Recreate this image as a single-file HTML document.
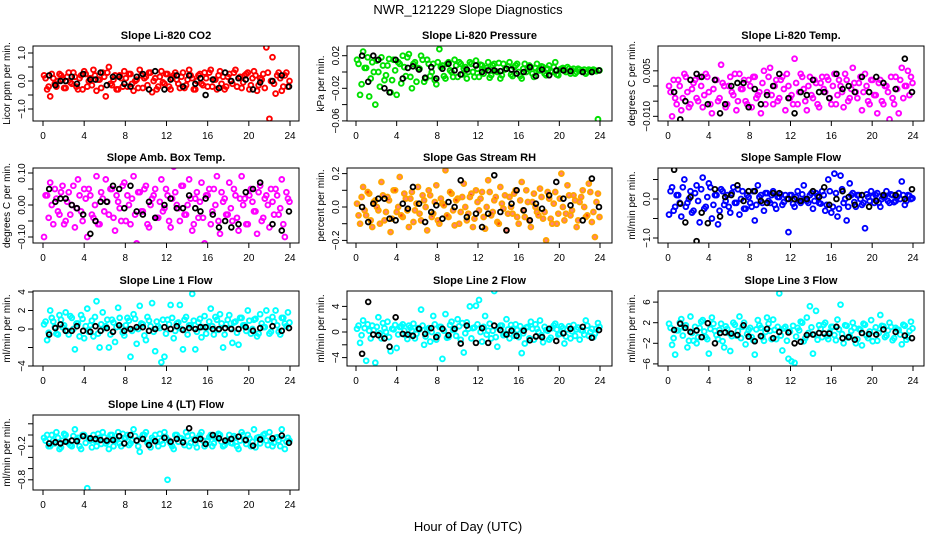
<!DOCTYPE html>
<html><head><meta charset="utf-8"><style>
body{margin:0;background:#fff}
svg{display:block;font-family:"Liberation Sans",sans-serif}
</style></head><body>
<svg id="chart" width="936" height="540" viewBox="0 0 936 540">
<text x="468" y="14" text-anchor="middle" font-size="13">NWR_121229  Slope Diagnostics</text>
<text x="468" y="531" text-anchor="middle" font-size="13">Hour of Day (UTC)</text>
</svg>
<script>
const hoursC=[0.1,0.4,0.7,1.0,1.3,1.6,1.9,2.2,2.5,2.8,3.1,3.4,3.7,4.0,4.3,4.6,4.9,5.2,5.5,5.8,6.1,6.4,6.7,7.0,7.3,7.6,7.9,8.2,8.5,8.8,9.1,9.4,9.7,10.0,10.3,10.6,10.9,11.2,11.5,11.8,12.1,12.4,12.7,13.0,13.3,13.6,13.9,14.2,14.5,14.8,15.1,15.4,15.7,16.0,16.3,16.6,16.9,17.2,17.5,17.8,18.1,18.4,18.7,19.0,19.3,19.6,19.9,20.2,20.5,20.8,21.1,21.4,21.7,22.0,22.3,22.6,22.9,23.2,23.5,23.8];
const hoursC2=[0.25,0.55,0.85,1.15,1.45,1.75,2.05,2.35,2.65,2.95,3.25,3.55,3.85,4.15,4.45,4.75,5.05,5.35,5.65,5.95,6.25,6.55,6.85,7.15,7.45,7.75,8.05,8.35,8.65,8.95,9.25,9.55,9.85,10.15,10.45,10.75,11.05,11.35,11.65,11.95,12.25,12.55,12.85,13.15,13.45,13.75,14.05,14.35,14.65,14.95,15.25,15.55,15.85,16.15,16.45,16.75,17.05,17.35,17.65,17.95,18.25,18.55,18.85,19.15,19.45,19.75,20.05,20.35,20.65,20.95,21.25,21.55,21.85,22.15,22.45,22.75,23.05,23.35,23.65,23.95];
const hoursK=[0.6,1.2,1.7,2.2,2.8,3.3,3.9,4.6,5.1,5.6,6.2,6.8,7.4,7.9,8.5,9.1,9.7,10.3,10.9,11.8,12.4,13.0,13.6,14.2,14.8,15.3,15.8,16.5,17.1,17.7,18.3,19.0,19.7,20.4,21.1,22.3,23.2,23.9];

const co2All=[0.2,-0.3,-0.55,0.1,-0.2,0.25,0.05,-0.25,0.3,-0.1,0.15,-0.3,0.2,0.35,-0.2,0.1,0.4,-0.35,0.05,0.3,-0.55,0.5,-0.15,0.2,-0.3,0.1,0.35,-0.2,0.25,-0.35,0.05,0.4,-0.25,0.15,0.3,-0.4,0.1,-0.2,0.35,-0.1,0.25,-0.3,0.2,0.05,-0.25,0.3,-0.15,0.4,0.1,-0.3,0.2,-0.1,0.3,-0.2,0.4,0.05,-0.3,0.35,0.15,-0.2,0.25,-0.1,0.4,0.1,-0.25,0.2,0.3,-0.15,0.35,-0.35,0.1,0.25,1.2,-1.35,0.85,-0.45,0.3,-0.35,0.2,-0.2];
const co2All2=[0.1,-0.2,0.25,-0.1,0.0,0.2,-0.25,0.15,-0.05,0.3,-0.2,0.1,-0.3,0.25,0.0,-0.15,0.2,0.05,-0.25,0.15,0.3,-0.1,0.05,-0.3,0.2,-0.2,0.1,0.25,-0.1,0.0,-0.25,0.2,0.1,-0.15,0.3,0.0,-0.3,0.15,-0.05,0.25,-0.2,0.1,0.3,-0.1,0.15,-0.25,0.05,0.2,-0.3,0.0,0.25,-0.15,0.1,0.3,-0.2,0.05,0.2,-0.1,-0.3,0.15,0.0,0.3,-0.2,0.15,-0.05,0.25,-0.3,0.1,0.2,-0.15,0.05,-0.25,0.3,0.0,-0.1,0.2,0.1,-0.2,0.3,0.0];
const co2Sel=[0.2,-0.15,0.0,0.0,0.15,-0.1,0.25,0.05,0.05,0.3,-0.15,0.15,0.15,-0.1,-0.2,0.15,0.25,-0.3,0.35,-0.3,0.05,0.2,-0.2,0.2,-0.1,0.1,-0.5,0.05,-0.25,0.3,0.0,0.1,0.05,-0.3,-0.05,0.0,0.2,-0.2];
const presAll=[0.015,-0.028,0.025,0.005,-0.03,0.012,-0.04,0.0,0.018,-0.01,0.008,-0.025,0.015,-0.028,0.01,0.02,-0.005,0.022,-0.02,0.012,0.005,0.02,-0.012,0.015,-0.005,0.01,-0.015,0.028,0.008,-0.008,0.012,0.0,0.015,-0.006,0.01,0.004,-0.008,0.012,0.0,0.014,-0.006,0.008,0.002,0.012,-0.004,0.01,0.0,-0.008,0.01,0.004,0.012,-0.005,0.008,0.0,-0.008,0.01,0.004,0.006,-0.006,0.01,0.002,0.006,-0.004,0.008,0.0,0.012,-0.004,0.004,0.002,0.006,-0.002,0.004,0.0,0.003,0.001,-0.002,0.003,0.0,0.002,-0.058];
const presAll2=[0.01,-0.015,0.005,0.018,-0.008,0.0,0.014,-0.018,0.008,-0.004,0.016,-0.01,0.002,0.012,-0.014,0.006,0.018,-0.006,0.01,-0.012,0.004,0.015,-0.008,0.01,0.0,-0.01,0.012,0.006,-0.005,0.01,0.002,-0.006,0.008,0.012,-0.003,0.006,0.0,0.01,-0.006,0.004,0.009,-0.002,0.005,-0.007,0.008,0.001,0.011,-0.004,0.003,0.007,-0.003,0.006,0.01,-0.005,0.004,0.0,0.008,-0.002,0.005,0.002,0.007,-0.002,0.004,0.001,0.006,-0.003,0.003,0.005,0.0,0.004,0.002,-0.002,0.004,0.001,0.003,0.0,0.002,0.003,0.001,0.002];
const presSel=[0.02,-0.012,0.02,0.015,-0.02,-0.025,0.015,-0.008,0.005,0.007,0.003,-0.007,0.006,-0.008,0.004,0.01,0.002,-0.003,0.003,0.008,0.0,0.002,0.002,0.001,0.004,0.003,-0.002,0.0,0.006,-0.005,0.003,-0.004,0.002,0.002,0.001,0.0,0.0,0.002];
const tempAll=[0.0,-0.01,-0.004,0.002,-0.008,0.004,-0.002,-0.006,0.001,-0.004,0.003,-0.007,0.004,-0.002,-0.009,0.002,-0.005,0.007,0.0,-0.006,0.003,-0.003,-0.008,0.004,-0.001,-0.005,0.002,-0.007,0.003,-0.003,-0.009,0.005,-0.002,0.006,-0.006,0.002,-0.004,0.003,-0.008,0.0,-0.003,0.009,-0.006,0.004,-0.001,-0.008,0.003,-0.004,0.001,-0.007,0.003,-0.002,0.002,-0.006,0.004,-0.003,0.0,-0.007,0.002,-0.004,0.006,-0.002,0.001,-0.008,0.004,-0.005,0.002,-0.003,-0.009,0.002,-0.006,0.0,-0.011,-0.004,0.003,-0.009,0.006,0.0,0.005,0.003];
const tempAll2=[-0.002,0.002,-0.006,0.0,-0.004,0.003,-0.007,-0.001,0.002,-0.005,0.0,-0.003,0.003,-0.006,-0.001,0.002,-0.004,0.001,-0.007,0.0,-0.002,0.004,-0.005,-0.001,0.002,-0.006,0.0,0.003,-0.004,-0.002,0.001,-0.006,0.003,-0.003,0.0,-0.005,0.002,-0.001,0.004,-0.004,-0.006,0.001,-0.002,0.003,-0.005,0.0,-0.003,0.002,-0.006,0.001,-0.001,0.003,-0.004,0.0,-0.006,0.002,-0.002,0.004,-0.005,-0.001,0.001,-0.004,0.003,-0.002,0.0,-0.006,0.002,-0.003,0.001,-0.005,0.0,-0.002,0.003,-0.006,-0.001,0.002,-0.004,0.0,-0.003,0.001];
const tempSel=[-0.002,-0.011,-0.005,0.002,0.004,0.003,-0.006,0.002,-0.009,-0.006,0.0,0.001,0.001,-0.007,-0.001,-0.006,-0.003,0.0,0.004,-0.004,-0.009,-0.002,-0.003,0.002,-0.002,-0.002,-0.004,0.004,-0.001,0.0,-0.002,0.003,-0.002,0.003,0.001,-0.001,0.009,-0.002];
const boxAll=[-0.1,0.03,0.07,-0.06,0.02,-0.03,0.06,-0.05,0.04,0.0,-0.07,0.08,-0.02,0.05,-0.1,0.03,-0.04,0.09,-0.06,0.02,0.08,-0.03,0.05,-0.08,0.01,-0.05,0.07,0.03,-0.06,0.09,-0.12,0.04,-0.02,0.06,-0.07,0.02,0.05,-0.04,0.08,-0.01,0.03,-0.07,0.12,0.0,-0.05,0.06,-0.03,0.08,-0.08,0.02,-0.04,0.07,-0.12,0.03,-0.06,0.05,0.09,-0.09,0.01,-0.03,0.07,-0.05,0.03,-0.08,0.09,0.02,-0.06,0.05,-0.02,-0.09,0.06,-0.04,0.03,-0.07,0.01,0.05,-0.03,0.08,-0.1,0.02];
const boxAll2=[0.03,-0.04,0.0,0.05,-0.02,0.04,-0.06,0.01,-0.03,0.06,-0.01,0.03,-0.05,0.02,0.05,-0.03,0.0,-0.06,0.04,-0.02,0.01,0.05,-0.04,0.03,-0.01,0.06,-0.05,0.0,0.02,-0.03,0.04,-0.02,0.05,-0.06,0.0,0.03,-0.04,0.01,-0.02,0.05,-0.05,0.02,0.04,-0.01,0.06,-0.03,0.0,0.02,-0.06,0.04,0.01,-0.04,0.03,0.05,-0.02,0.0,-0.05,0.04,0.02,-0.03,-0.01,0.05,-0.04,0.02,0.0,-0.06,0.03,0.01,-0.02,0.04,-0.05,0.02,0.0,0.05,-0.03,0.03,-0.01,-0.06,0.04,0.01];
const boxSel=[0.05,0.01,0.02,0.02,0.0,-0.01,-0.03,-0.09,-0.05,0.01,0.01,0.06,0.05,-0.01,0.06,-0.02,-0.03,0.01,-0.04,0.0,0.02,-0.01,-0.01,0.03,-0.01,-0.02,0.02,-0.03,-0.07,-0.05,-0.07,-0.06,0.04,0.05,0.07,-0.06,-0.08,-0.02];
const rhAll=[0.02,-0.1,0.12,-0.05,0.08,-0.12,0.04,-0.02,0.15,-0.08,0.06,-0.15,0.1,-0.03,0.18,-0.06,0.05,-0.12,0.09,-0.02,0.12,-0.08,0.04,-0.14,0.07,-0.04,0.13,-0.1,0.02,0.22,-0.06,0.08,-0.11,0.05,-0.03,0.14,-0.08,0.06,-0.12,0.1,-0.02,0.09,-0.13,0.16,-0.05,0.04,-0.09,0.12,-0.01,-0.14,0.06,-0.04,0.1,-0.1,0.15,-0.06,0.03,-0.12,0.08,-0.03,0.11,-0.07,-0.2,0.05,-0.1,0.09,-0.04,0.2,-0.08,0.13,-0.05,0.07,-0.12,0.03,0.1,-0.06,0.14,-0.09,-0.18,0.08];
const rhAll2=[-0.05,0.06,-0.02,0.09,-0.08,0.03,0.0,-0.1,0.07,-0.03,0.04,-0.07,0.1,0.0,-0.05,0.08,-0.02,0.05,-0.09,0.02,-0.04,0.07,0.0,0.1,-0.06,0.03,-0.08,0.05,0.01,-0.05,0.09,-0.02,0.04,-0.1,0.06,0.0,-0.04,0.08,-0.07,0.03,0.05,-0.06,0.0,0.09,-0.03,0.06,-0.1,0.02,0.07,-0.04,0.0,0.08,-0.06,0.04,-0.02,0.1,-0.08,0.03,0.0,-0.05,0.06,-0.03,0.09,-0.07,0.02,-0.1,0.05,0.0,-0.04,0.07,-0.02,0.04,-0.08,0.06,0.0,-0.05,0.09,-0.03,0.03,-0.06];
const rhSel=[0.0,-0.09,0.02,0.05,0.05,-0.07,-0.08,0.02,-0.01,0.12,0.02,-0.09,-0.03,0.01,-0.07,0.03,0.0,0.16,-0.06,-0.04,-0.12,-0.04,0.19,-0.03,-0.14,0.02,0.1,-0.02,-0.08,0.02,-0.01,0.07,0.15,0.05,0.01,-0.08,0.17,0.0];
const sflowAll=[-0.4,0.3,-0.2,0.1,-0.45,0.5,-0.1,0.2,-0.3,0.35,-0.6,0.55,-0.2,0.4,-0.5,0.1,-0.65,0.25,-0.15,0.1,-0.35,0.3,-0.1,-0.4,0.2,-0.25,0.05,-0.2,-0.55,0.35,0.1,-0.3,0.15,-0.1,0.2,-0.25,0.05,-0.15,0.1,-0.85,0.1,-0.2,0.2,-0.1,0.35,-0.05,0.1,-0.25,0.15,-0.1,0.2,-0.3,0.5,-0.35,0.65,-0.45,0.6,-0.1,-0.55,0.4,0.15,-0.2,0.1,-0.15,-0.75,0.05,0.2,-0.1,0.15,-0.2,0.05,0.2,-0.1,0.1,-0.05,0.15,0.45,-0.15,0.1,0.0];
const sflowAll2=[0.2,-0.3,0.1,-0.1,0.3,-0.2,0.0,-0.35,0.15,-0.05,0.25,-0.25,0.05,0.3,-0.15,0.1,-0.3,0.2,-0.05,-0.2,0.15,-0.1,0.25,0.0,-0.25,0.1,-0.1,0.2,-0.15,0.05,-0.1,0.15,-0.05,0.1,-0.15,0.05,0.12,-0.08,0.0,0.1,-0.12,0.05,-0.05,0.12,0.0,-0.1,0.15,-0.05,0.08,-0.12,0.1,-0.15,0.2,-0.2,0.15,-0.25,0.25,0.0,-0.2,0.1,-0.08,0.1,0.0,-0.1,0.12,-0.05,0.05,0.1,-0.1,0.0,0.08,-0.05,0.12,-0.08,0.05,0.0,0.1,-0.05,0.08,0.02];
const sflowSel=[0.75,-0.12,-0.6,0.05,-1.08,-0.35,-0.62,0.25,-0.45,0.05,0.1,0.35,-0.05,0.2,0.2,-0.05,-0.1,0.15,0.15,0.0,0.0,-0.05,0.0,0.2,0.05,0.3,-0.15,0.0,0.2,0.05,-0.15,0.1,-0.2,-0.05,0.1,0.1,0.0,0.25];
const l1All=[0.5,-1.2,2.0,0.8,-0.5,1.5,0.2,1.8,-0.6,1.2,-2.2,0.6,1.5,-1.0,2.2,0.4,-0.8,3.0,-2.0,1.8,0.3,-2.0,1.0,-1.4,2.3,0.2,-0.7,1.2,-3.0,1.6,-1.6,2.5,0.5,-1.2,0.9,2.8,-2.4,0.3,-3.6,-3.0,1.0,2.6,-1.0,0.6,2.6,-2.2,1.3,0.4,3.8,-2.2,0.7,-0.9,1.4,0.2,2.2,-0.6,1.0,1.6,-2.0,0.5,1.5,-1.5,0.8,-1.7,1.2,0.4,2.0,-0.5,1.0,-0.8,1.6,0.2,2.0,-0.5,1.3,2.0,-0.3,1.2,0.6,1.8];
const l1All2=[0.8,-0.4,1.2,0.2,-0.6,1.0,0.4,-0.2,1.4,0.0,0.6,-0.8,1.1,0.3,-0.3,0.9,1.3,-0.5,0.5,0.1,1.0,-0.6,0.7,0.2,1.2,-0.4,0.4,0.9,-0.2,1.1,0.0,0.6,-0.7,1.3,0.3,-0.3,0.8,0.1,1.0,-0.5,0.5,1.2,-0.2,0.7,0.0,1.0,-0.6,0.4,0.9,-0.3,1.1,0.2,-0.5,0.8,0.3,1.3,-0.1,0.6,-0.6,1.0,0.1,0.7,-0.4,1.2,0.4,-0.2,0.9,0.0,1.1,-0.5,0.6,0.2,1.0,-0.3,0.8,0.4,-0.6,1.2,0.3,0.7];
const l1Sel=[-0.6,0.1,0.5,-0.2,-0.2,0.3,-0.2,-0.3,0.3,-0.2,0.1,-0.3,0.4,-0.2,0.0,0.2,0.2,-0.2,0.0,0.2,0.0,0.3,-0.1,0.1,0.0,0.2,0.2,0.0,0.0,0.1,0.0,0.0,0.2,-0.2,0.1,0.3,-0.2,0.1];
const l2All=[0.5,-1.7,1.8,-4.5,0.2,1.0,-4.8,2.3,-1.0,0.6,1.6,-3.0,0.4,-2.5,0.8,1.2,-0.5,1.0,0.2,-1.0,0.6,3.5,-2.0,0.3,-1.5,2.5,-1.2,0.8,-4.2,2.8,-0.8,1.6,0.4,2.0,-1.2,-3.2,1.5,4.0,0.6,4.1,5.0,-1.5,2.5,0.2,-1.0,6.4,-2.3,1.0,-0.5,2.0,-1.0,0.5,1.2,-0.8,-3.3,-1.8,0.8,1.6,-1.2,0.5,1.8,-1.6,0.3,-1.2,0.6,1.3,-0.4,0.9,-1.8,0.4,-1.0,1.1,0.4,-1.2,0.2,1.8,-0.6,0.5,-0.3,1.4];
const l2All2=[1.0,-0.5,0.6,1.2,-1.0,0.3,0.8,-0.2,1.4,0.0,-0.8,0.5,1.1,-0.4,0.9,0.2,-1.1,0.7,1.3,-0.3,0.4,1.0,-0.7,0.6,0.0,1.2,-0.5,0.8,0.2,-0.9,1.1,0.3,-0.6,0.9,1.4,-0.2,0.5,-1.0,0.7,1.2,0.0,0.8,-0.4,1.3,0.2,-0.8,0.6,1.0,-0.3,0.4,1.1,-0.6,0.3,0.9,-0.2,0.7,-1.0,0.5,1.2,0.0,-0.5,0.8,0.2,-0.9,1.0,0.4,-0.3,0.6,-0.7,0.9,0.1,-0.6,0.7,0.3,-0.4,1.0,0.0,-0.8,0.5,0.8];
const l2Sel=[-3.4,4.7,-0.4,-0.5,-1.0,-2.3,2.3,-0.3,-0.4,-0.6,0.5,-0.3,0.6,-0.8,0.5,-0.5,0.5,-1.8,1.0,-1.7,0.6,-1.7,1.0,0.3,-0.4,0.2,-0.6,0.2,-1.3,-0.7,-0.8,0.5,-1.4,-0.2,0.5,0.8,-0.9,0.3];
const l3All=[1.8,-2.3,-4.2,0.5,2.7,1.0,-2.8,3.2,-1.5,-2.0,1.0,2.5,-0.8,-4.0,3.0,0.4,-1.2,1.8,-2.8,0.8,-3.5,2.0,-0.5,3.2,1.2,-2.2,0.6,-0.8,-4.2,2.5,1.0,-1.5,3.0,0.4,2.6,-1.2,7.7,-3.4,1.2,-5.0,-5.5,-5.8,1.0,2.2,-1.6,3.0,5.2,-4.0,4.3,1.5,-0.8,2.0,-1.2,1.2,-0.4,2.6,5.5,-2.0,1.4,-0.6,2.0,-2.0,0.8,-2.4,1.6,-1.0,2.5,0.3,-1.5,3.5,1.3,-0.5,2.0,-1.4,1.0,0.6,-2.2,1.4,-0.8,2.2];
const l3All2=[1.0,-1.0,0.5,2.0,-0.5,1.5,-1.5,0.0,1.2,-0.8,2.2,0.3,-1.2,0.8,1.8,-0.4,0.6,-1.6,1.3,0.0,-0.6,1.6,0.4,-1.0,2.0,-0.2,1.0,-1.4,0.7,1.5,-0.8,0.2,1.8,-1.2,0.6,1.2,-0.5,0.9,-1.5,0.3,1.4,-0.7,0.5,2.0,-1.0,0.0,1.1,-0.3,-1.3,0.8,1.6,-0.6,0.2,1.2,-1.4,0.7,-0.2,1.5,-0.9,0.4,1.0,-1.2,0.6,1.8,-0.5,0.3,-1.6,1.1,0.0,1.4,-0.8,0.5,1.2,-1.0,0.7,-0.3,1.6,-1.3,0.4,0.9];
const l3Sel=[0.6,1.8,1.0,0.2,0.5,-0.8,1.9,-2.0,0.0,0.1,-0.1,-0.4,1.5,-0.7,-1.6,-0.6,0.8,-1.0,0.2,0.1,-2.0,-1.7,-0.4,-0.3,0.0,-0.1,-0.1,1.2,-1.0,-0.8,-1.3,0.0,-0.2,-0.3,0.7,0.2,-0.5,-1.0];
const l4All=[-0.05,0.0,-0.2,-0.1,0.05,-0.25,-0.1,0.0,-0.15,-0.2,0.1,-0.05,-0.25,0.0,-0.95,-0.1,0.0,-0.2,-0.05,0.05,-0.15,-0.25,0.0,-0.1,0.05,-0.2,-0.05,0.0,-0.15,0.1,-0.1,-0.3,0.0,0.05,-0.15,-0.05,0.0,-0.2,-0.1,0.05,-0.8,-0.15,-0.25,0.0,-0.05,-0.1,0.05,-0.2,0.0,-0.15,-0.05,0.05,-0.2,-0.1,0.0,-0.15,-0.05,0.0,-0.2,-0.1,0.0,-0.15,-0.05,-0.25,0.05,-0.1,0.0,-0.2,0.1,-0.05,-0.15,0.0,-0.1,0.05,-0.2,-0.05,-0.1,0.1,-0.25,-0.05];
const l4All2=[-0.1,-0.2,0.0,-0.15,-0.05,-0.22,0.02,-0.12,-0.18,-0.02,-0.08,-0.2,0.0,-0.14,-0.06,-0.22,-0.1,0.02,-0.16,-0.04,-0.12,0.0,-0.2,-0.08,-0.15,0.02,-0.05,-0.18,-0.1,-0.02,-0.2,-0.06,0.0,-0.14,-0.22,-0.08,-0.12,0.02,-0.16,-0.04,-0.1,-0.2,0.0,-0.12,-0.06,-0.18,-0.02,-0.14,-0.08,-0.22,0.0,-0.1,-0.16,-0.04,-0.2,-0.06,0.02,-0.12,-0.18,-0.08,-0.14,-0.02,-0.2,-0.1,0.0,-0.16,-0.06,-0.12,-0.22,-0.04,-0.08,0.02,-0.18,-0.1,-0.14,-0.04,-0.2,-0.06,-0.12,-0.1];
const l4Sel=[-0.15,-0.13,-0.15,-0.12,-0.1,-0.11,-0.02,-0.06,-0.07,-0.09,-0.1,-0.09,-0.02,-0.15,0.0,-0.1,-0.07,-0.18,-0.11,-0.05,-0.12,-0.07,-0.13,0.12,-0.09,-0.07,-0.16,0.0,-0.06,-0.1,-0.07,-0.03,-0.09,-0.19,-0.08,-0.06,-0.01,-0.14];
const xTickLabels=["0","4","8","12","16","20","24"];

const NS="http://www.w3.org/2000/svg";
const svg=document.getElementById('chart');
const cols=[{l:33,r:299,h0:43,h24:290},{l:347,r:612,h0:356,h24:600},{l:658,r:924,h0:668,h24:913}];
const rows=[46,168,291,415];
const H=75;
const panels=[
 {name:'co2',title:'Slope Li-820 CO2',ylab:'Licor ppm per min.',c:0,r:0,y0:81,k:28,ticks:[-1,-0.5,0,0.5,1],labs:{'-1':'\u22121.0','0':'0.0','1':'1.0'},all:co2All,all2:co2All2,sel:co2Sel,col:'#ff0000'},
 {name:'pressure',title:'Slope Li-820 Pressure',ylab:'kPa per min.',c:1,r:0,y0:72,k:815,ticks:[-0.06,-0.04,-0.02,0,0.02],labs:{'-0.06':'\u22120.06','-0.02':'\u22120.02','0.02':'0.02'},all:presAll,all2:presAll2,sel:presSel,col:'#00e000'},
 {name:'temp',title:'Slope Li-820 Temp.',ylab:'degrees C per min.',c:2,r:0,y0:86,k:3033,ticks:[-0.01,-0.005,0,0.005],labs:{'-0.01':'\u22120.010','0.005':'0.005'},all:tempAll,all2:tempAll2,sel:tempSel,col:'#ff00ff'},
 {name:'amb-box-temp',title:'Slope Amb. Box Temp.',ylab:'degrees C per min.',c:0,r:1,y0:205,k:320,ticks:[-0.1,-0.05,0,0.05,0.1],labs:{'-0.1':'\u22120.10','0':'0.00','0.1':'0.10'},all:boxAll,all2:boxAll2,sel:boxSel,col:'#ff00ff'},
 {name:'gas-stream-rh',title:'Slope Gas Stream RH',ylab:'percent per min.',c:1,r:1,y0:207,k:167,ticks:[-0.2,-0.1,0,0.1,0.2],labs:{'-0.2':'\u22120.2','0':'0.0','0.2':'0.2'},all:rhAll,all2:rhAll2,sel:rhSel,col:'#ffa500',inner:'#ff0000'},
 {name:'sample-flow',title:'Slope Sample Flow',ylab:'ml/min per min.',c:2,r:1,y0:199,k:39,ticks:[-1,-0.5,0,0.5],labs:{'-1':'\u22121.0','0':'0.0'},all:sflowAll,all2:sflowAll2,sel:sflowSel,col:'#0000ff'},
 {name:'line1-flow',title:'Slope Line 1 Flow',ylab:'ml/min per min.',c:0,r:2,y0:329,k:9.25,ticks:[-4,-2,0,2,4],labs:{'-4':'\u22124','0':'0','2':'2','4':'4'},all:l1All,all2:l1All2,sel:l1Sel,col:'#00ffff'},
 {name:'line2-flow',title:'Slope Line 2 Flow',ylab:'ml/min per min.',c:1,r:2,y0:332,k:6.4,ticks:[-4,-2,0,2,4],labs:{'-4':'\u22124','0':'0','4':'4'},all:l2All,all2:l2All2,sel:l2Sel,col:'#00ffff'},
 {name:'line3-flow',title:'Slope Line 3 Flow',ylab:'ml/min per min.',c:2,r:2,y0:333,k:5.15,ticks:[-6,-2,2,6],labs:{'-6':'\u22126','-2':'\u22122','2':'2','6':'6'},all:l3All,all2:l3All2,sel:l3Sel,col:'#00ffff'},
 {name:'line4-flow',title:'Slope Line 4 (LT) Flow',ylab:'ml/min per min.',c:0,r:3,y0:435,k:56,ticks:[-0.8,-0.6,-0.4,-0.2,0,0.2],labs:{'-0.8':'\u22120.8','-0.2':'\u22120.2'},all:l4All,all2:l4All2,sel:l4Sel,col:'#00ffff'}
];
function mk(tag,attrs,parent){const e=document.createElementNS(NS,tag);for(const a in attrs)e.setAttribute(a,attrs[a]);parent.appendChild(e);return e;}
panels.forEach(p=>{
 const C=cols[p.c],top=rows[p.r],bot=top+H;
 const xs=h=>C.h0+(C.h24-C.h0)*h/24;
 const ys=v=>p.y0-p.k*v;
 const g=mk('g',{},svg);
 
 
 const t=mk('text',{x:(C.l+C.r)/2,y:top-7,'text-anchor':'middle','font-size':'11','font-weight':'bold'},g);
 t.textContent=p.title;
 
 
 const yt=mk('text',{transform:`translate(${C.l-23},${(top+bot)/2}) rotate(-90)`,'text-anchor':'middle','font-size':'10'},g);
 yt.textContent=p.ylab;
 
 
 const cp='clip-'+p.name;
 const cl=mk('clipPath',{id:cp},g);mk('rect',{x:C.l,y:top,width:C.r-C.l,height:H},cl);
 const pts=mk('g',{'clip-path':`url(#${cp})`},g);
 
 
 const drawSet=(hrs,vals)=>{
  const n=Math.min(hrs.length,vals.length);
  for(let i=0;i<n;i++){
   const c=mk('circle',{cx:xs(hrs[i]),cy:ys(vals[i]),r:2.4,fill:p.inner?p.inner:'none','fill-opacity':p.inner?0.5:1,stroke:p.col,'stroke-width':1.9},pts);
   
   
  }
 };
 drawSet(hoursC,p.all);
 drawSet(hoursC2,p.all2);
 const m=Math.min(hoursK.length,p.sel.length);
 for(let i=0;i<m;i++){
  const c=mk('circle',{cx:xs(hoursK[i]),cy:ys(p.sel[i]),r:2.4,fill:'none',stroke:'#000','stroke-width':1.8},pts);
  
  
 }
 const b=mk('rect',{x:C.l,y:top,width:C.r-C.l,height:H,fill:'none',stroke:'#000','stroke-width':1},g);
 
 
 xTickLabels.forEach(lab=>{
  const x=xs(+lab);
  mk('line',{x1:x,x2:x,y1:bot,y2:bot+5,stroke:'#000'},g);
  const tx=mk('text',{x:x,y:bot+18,'text-anchor':'middle','font-size':'10'},g);
  tx.textContent=lab;
  
  
 });
 p.ticks.forEach(v=>{
  const y=ys(v);
  mk('line',{x1:C.l-5,x2:C.l,y1:y,y2:y,stroke:'#000'},g);
  const key=String(v);
  if(p.labs[key]){
   const tx=mk('text',{transform:`translate(${C.l-8},${y}) rotate(-90)`,'text-anchor':'middle','font-size':'10'},g);
   tx.textContent=p.labs[key];
   
   
  }
 });
});
</script>
</body></html>
